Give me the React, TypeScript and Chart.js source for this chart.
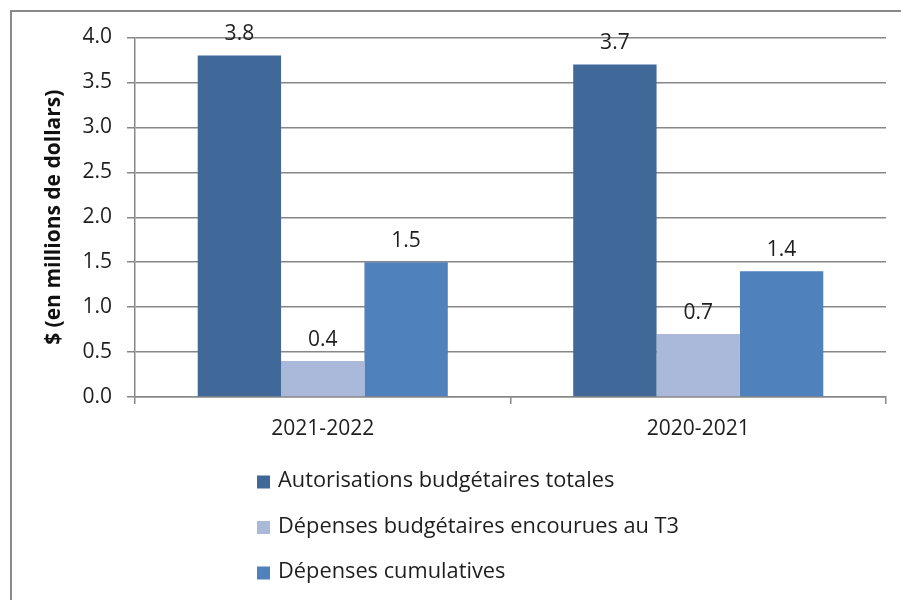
import React, { useEffect, useRef } from "react";
import { Chart, registerables } from "chart.js";

Chart.register(...registerables);

const categories = ["2021-2022", "2020-2021"];
const seriesNames = [
  "Autorisations budgétaires totales",
  "Dépenses budgétaires encourues au T3",
  "Dépenses cumulatives",
];
const autorisations = [3.8, 3.7];
const depensesT3 = [0.4, 0.7];
const depensesCumulatives = [1.5, 1.4];
const yTicks = [0, 0.5, 1.0, 1.5, 2.0, 2.5, 3.0, 3.5, 4.0];
const yTitle = "$ (en millions de dollars)";

const colors = ["#40699A", "#AAB9D9", "#4F81BD"];
const FONT = "'Open Sans'";
const FS = 21;
const GRID = "#878787";
const TEXT = "#1e1e1e";

const dataLabels = {
  id: "dataLabels",
  afterDatasetsDraw(chart: any) {
    const ctx = chart.ctx;
    ctx.save();
    ctx.font = `${FS}px ${FONT}`;
    ctx.fillStyle = TEXT;
    ctx.textAlign = "center";
    ctx.textBaseline = "middle";
    chart.data.datasets.forEach((ds: any, i: number) => {
      const meta = chart.getDatasetMeta(i);
      meta.data.forEach((el: any, j: number) => {
        ctx.fillText(Number(ds.data[j]).toFixed(1), el.x, el.y - 21);
      });
    });
    ctx.restore();
  },
};

const frameAndLegend = {
  id: "frameAndLegend",
  afterDraw(chart: any) {
    const ctx = chart.ctx;
    ctx.save();
    ctx.strokeStyle = "#8a8a8a";
    ctx.lineWidth = 2;
    ctx.beginPath();
    ctx.moveTo(11, 600);
    ctx.lineTo(11, 11);
    ctx.lineTo(901, 11);
    ctx.stroke();

    ctx.font = `21.8px ${FONT}`;
    ctx.textAlign = "left";
    ctx.textBaseline = "middle";
    const rows = [481, 526.5, 572];
    seriesNames.forEach((name, i) => {
      ctx.fillStyle = colors[i];
      ctx.fillRect(257, rows[i] - 5.5, 13, 13);
      ctx.fillStyle = TEXT;
      ctx.fillText(name, 278, rows[i]);
    });
    ctx.restore();
  },
};

export default function App() {
  const ref = useRef<HTMLCanvasElement | null>(null);
  useEffect(() => {
    document.body.style.margin = "0";
    const chart = new Chart(ref.current as HTMLCanvasElement, {
      type: "bar",
      data: {
        labels: categories,
        datasets: [autorisations, depensesT3, depensesCumulatives].map((d, i) => ({
          label: seriesNames[i],
          data: d,
          backgroundColor: colors[i],
          borderWidth: 0,
          categoryPercentage: 0.666,
          barPercentage: 1,
        })),
      },
      options: {
        responsive: false,
        animation: false,
        layout: { padding: { top: 37.5, right: 15, left: 0, bottom: 0 } },
        plugins: {
          legend: { display: false },
          tooltip: { enabled: false },
        },
        scales: {
          x: {
            afterFit(scale: any) {
              scale.height = 203;
            },
            grid: {
              display: true,
              drawOnChartArea: false,
              drawTicks: true,
              tickLength: 7,
              color: GRID,
              lineWidth: 1.5,
              offset: true,
            },
            border: { display: true, color: GRID, width: 1.5 },
            ticks: { font: { family: FONT, size: FS }, color: TEXT, padding: 12 },
          },
          y: {
            min: 0,
            max: 4,
            afterFit(scale: any) {
              scale.width = 135;
            },
            afterBuildTicks(scale: any) {
              scale.ticks = yTicks.map((v) => ({ value: v }));
            },
            grid: {
              color: GRID,
              lineWidth: 1.5,
              tickLength: 8,
              drawTicks: true,
            },
            border: { display: true, color: GRID, width: 1.5 },
            ticks: {
              font: { family: FONT, size: FS },
              color: TEXT,
              padding: 15,
              callback: (v: any) => Number(v).toFixed(1),
            },
            title: {
              display: true,
              text: yTitle,
              font: { family: FONT, size: 21, weight: "bold" },
              color: "#111",
              padding: { top: 41, bottom: 0 },
            },
          },
        },
      },
      plugins: [dataLabels, frameAndLegend],
    } as any);
    return () => chart.destroy();
  }, []);
  return (
    <div style={{ width: 901, height: 600, background: "#fff" }}>
      <canvas ref={ref} width={901} height={600} style={{ display: "block" }} />
    </div>
  );
}
